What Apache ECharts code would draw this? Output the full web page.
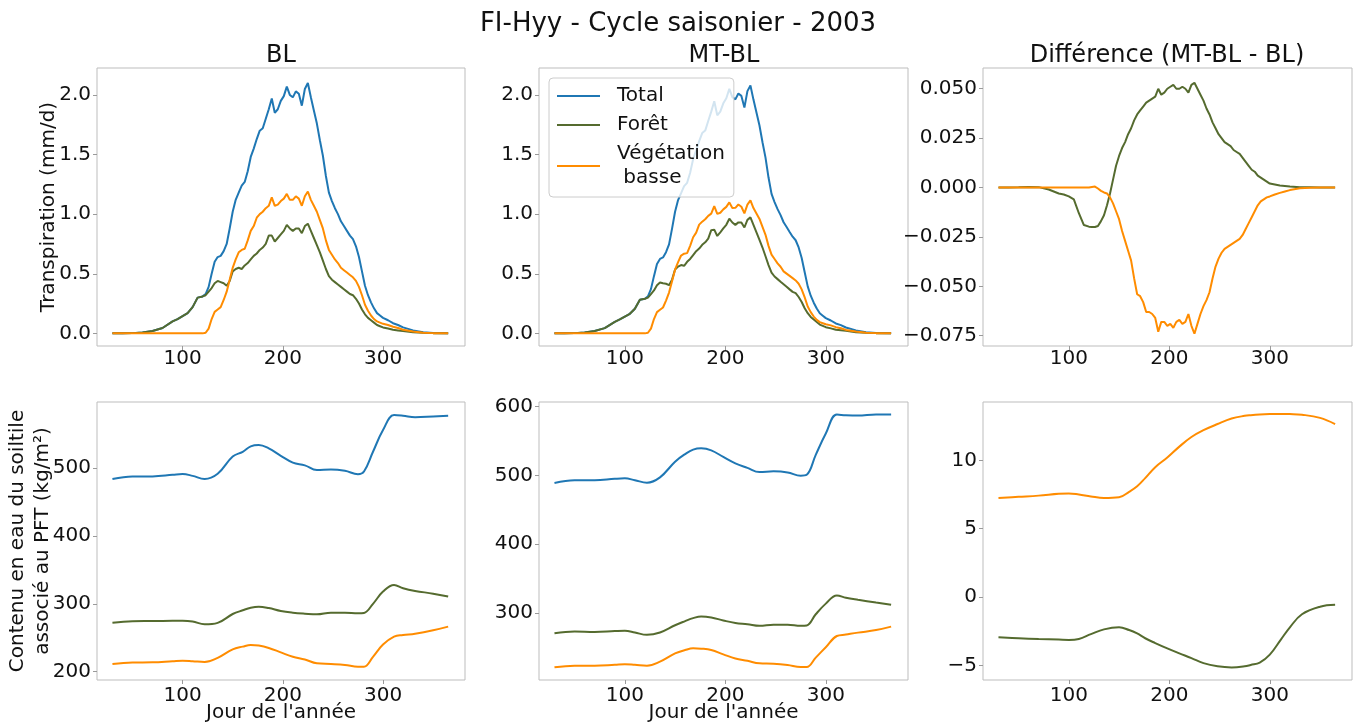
<!DOCTYPE html>
<html>
<head>
<meta charset="utf-8">
<script src="https://cdn.jsdelivr.net/npm/echarts@6/dist/echarts.min.js"></script>
<style>
  html, body { margin: 0; padding: 0; background: #ffffff; }
  #chart { width: 1356px; height: 724px; }
</style>
</head>
<body>
<div id="chart"></div>
<script>
// ---- Transpiration (mm/d), daily cycle for 2003 ----
const tDays = [30,40,50,60,70,80,90,95,100,105,110,115,120,
  123,126,129,132,135,138,141,144,147,150,
  153,156,159,162,165,168,171,174,177,180,
  183,186,189,192,195,198,201,204,207,210,
  213,216,219,222,225,228,231,234,237,240,
  243,246,249,252,255,258,261,264,267,270,
  273,276,279,282,285,288,291,294,297,300,
  305,310,315,320,330,340,350,365];

const blTotal = [0,0,0.002,0.008,0.02,0.045,0.10,0.12,0.145,0.17,0.22,0.30,0.31,
  0.33,0.39,0.50,0.60,0.64,0.65,0.69,0.75,0.88,1.02,
  1.12,1.18,1.24,1.27,1.36,1.48,1.55,1.63,1.70,1.72,
  1.80,1.88,1.97,1.85,1.88,1.95,1.99,2.07,2.00,1.98,
  2.03,2.01,1.91,2.05,2.10,1.98,1.87,1.76,1.62,1.49,
  1.32,1.18,1.11,1.05,1.00,0.94,0.90,0.86,0.82,0.79,
  0.73,0.64,0.52,0.40,0.32,0.26,0.21,0.17,0.15,0.13,
  0.11,0.085,0.07,0.05,0.025,0.01,0.004,0];
const blForet = [0,0,0.002,0.008,0.02,0.045,0.10,0.12,0.145,0.17,0.22,0.30,0.31,
  0.32,0.35,0.38,0.42,0.44,0.43,0.42,0.40,0.44,0.52,
  0.54,0.55,0.54,0.57,0.59,0.62,0.65,0.67,0.70,0.72,
  0.75,0.82,0.82,0.77,0.80,0.83,0.86,0.91,0.88,0.86,
  0.88,0.88,0.84,0.90,0.92,0.86,0.80,0.74,0.68,0.61,
  0.54,0.48,0.45,0.43,0.41,0.39,0.37,0.35,0.33,0.32,
  0.29,0.25,0.20,0.16,0.13,0.11,0.09,0.07,0.06,0.05,
  0.04,0.03,0.025,0.02,0.01,0.005,0.002,0];
const blBasse = [0,0,0,0,0,0,0,0,0,0,0,0,0,
  0.005,0.04,0.12,0.18,0.20,0.22,0.28,0.35,0.45,0.55,
  0.62,0.68,0.70,0.71,0.78,0.86,0.90,0.97,1.00,1.02,
  1.05,1.07,1.14,1.07,1.08,1.11,1.13,1.17,1.12,1.12,
  1.15,1.13,1.07,1.15,1.19,1.12,1.07,1.02,0.95,0.88,
  0.78,0.70,0.66,0.62,0.59,0.55,0.53,0.51,0.49,0.47,
  0.44,0.39,0.32,0.24,0.19,0.15,0.12,0.10,0.09,0.08,
  0.07,0.055,0.045,0.03,0.015,0.005,0.002,0];

const mtTotal = [0,0,0.002,0.008,0.02,0.044,0.097,0.117,0.141,0.164,0.207,0.282,0.29,
  0.31,0.371,0.48,0.581,0.624,0.637,0.681,0.746,0.879,1.02,
  1.118,1.176,1.235,1.263,1.348,1.463,1.534,1.613,1.68,1.701,
  1.781,1.86,1.947,1.829,1.86,1.93,1.972,2.051,1.982,1.963,
  2.012,1.992,1.894,2.032,2.079,1.961,1.853,1.744,1.603,1.474,
  1.307,1.17,1.101,1.042,0.992,0.932,0.892,0.851,0.811,0.781,
  0.721,0.632,0.513,0.394,0.316,0.257,0.208,0.168,0.148,0.128,
  0.108,0.083,0.069,0.049,0.025,0.01,0.004,0];
const mtForet = [0,0,0.002,0.008,0.02,0.044,0.097,0.117,0.141,0.164,0.207,0.282,0.29,
  0.30,0.33,0.36,0.403,0.426,0.42,0.416,0.404,0.451,0.536,
  0.56,0.573,0.567,0.60,0.624,0.657,0.689,0.711,0.743,0.764,
  0.795,0.866,0.87,0.817,0.848,0.88,0.911,0.962,0.93,0.91,
  0.931,0.93,0.888,0.952,0.973,0.91,0.847,0.784,0.72,0.647,
  0.573,0.51,0.477,0.455,0.433,0.412,0.391,0.369,0.348,0.337,
  0.305,0.263,0.211,0.169,0.138,0.116,0.095,0.074,0.063,0.052,
  0.042,0.031,0.026,0.021,0.01,0.005,0.002,0];
const mtBasse = [0,0,0,0,0,0,0,0,0,0,0,0,0,
  0.005,0.04,0.12,0.178,0.198,0.217,0.275,0.342,0.438,0.534,
  0.598,0.653,0.668,0.673,0.734,0.806,0.845,0.912,0.937,0.957,
  0.986,1.004,1.067,1.002,1.012,1.04,1.061,1.099,1.052,1.053,
  1.081,1.062,1.006,1.08,1.116,1.051,1.006,0.96,0.893,0.827,
  0.734,0.66,0.624,0.587,0.559,0.52,0.501,0.482,0.463,0.444,
  0.416,0.369,0.302,0.225,0.178,0.141,0.113,0.094,0.085,0.076,
  0.067,0.052,0.043,0.029,0.015,0.005,0.002,0];

// MT-BL minus BL, transpiration
const dForet = [0,0,0.0001,0.0003,0.0002,-0.001,-0.003,-0.0035,-0.0045,-0.006,-0.013,-0.019,-0.0198,
  -0.020,-0.020,-0.0195,-0.017,-0.014,-0.009,-0.003,0.004,0.011,0.016,
  0.020,0.023,0.027,0.030,0.034,0.037,0.039,0.041,0.043,0.044,
  0.045,0.046,0.050,0.047,0.048,0.050,0.051,0.052,0.050,0.050,
  0.051,0.050,0.048,0.052,0.053,0.050,0.047,0.044,0.040,0.037,
  0.033,0.030,0.027,0.025,0.023,0.022,0.021,0.019,0.018,0.017,
  0.015,0.013,0.011,0.009,0.008,0.006,0.005,0.004,0.003,0.002,
  0.0015,0.001,0.0008,0.0005,0.0002,0.0001,0,0];
const dBasse = [0,0,0,0,0,0,0,0,0,0,0,0,0,
  0.0003,0.0005,-0.0005,-0.0017,-0.0025,-0.003,-0.005,-0.008,-0.012,-0.016,
  -0.022,-0.027,-0.032,-0.037,-0.046,-0.054,-0.055,-0.058,-0.063,-0.063,
  -0.064,-0.066,-0.073,-0.068,-0.068,-0.070,-0.069,-0.071,-0.068,-0.067,
  -0.069,-0.068,-0.064,-0.070,-0.074,-0.069,-0.064,-0.060,-0.057,-0.053,
  -0.046,-0.040,-0.036,-0.033,-0.031,-0.030,-0.029,-0.028,-0.027,-0.026,
  -0.024,-0.021,-0.018,-0.015,-0.012,-0.009,-0.007,-0.006,-0.005,-0.0045,
  -0.0035,-0.0027,-0.002,-0.0013,-0.0004,-0.0001,0,0];

// ---- Soil water content per PFT (kg/m²) ----
const sDays = [30,50,70,90,100,110,122,135,150,160,168,176,186,198,210,222,234,248,262,275,281,290,300,311,320,332,350,365];

const swBlTotal = [483.8,487.5,487.7,490,491.2,488.5,483.8,491.5,517,524,532,534,529,518,508,504,497,498,496,491,495,524,556,578,577,575,576,577];
const swBlForet = [272.3,274.5,274.7,275,275.2,274,269.8,272,285,290.5,294.3,295.8,293.8,289.5,287,285.5,284.5,287,287,286,286.5,300,318,327.8,323,319,315,310.7];
const swBlBasse = [211.4,213.6,213.8,215.5,216.3,215.5,214.3,220.5,233,237,239.4,238.5,235,228.5,222,218,212.4,211.4,210,207.5,207.5,222,240,251.7,254,256,261,266.4];

const swMtTotal = [488.9,492.8,492.8,495,495.7,493,489.4,497.2,520,531,537.5,539.4,536.5,526.8,517.5,511,504.9,505.9,504.4,499.6,501,530,561,588.5,587.5,587,588.5,588.5];
const swMtForet = [270.5,272.9,272.4,273.5,273.9,271.5,268.1,271.5,282,288,292.4,294.8,293.4,289,285.3,283.5,281.2,282.7,282.7,281.2,281.7,298,313.5,325.4,322,319,315,311.8];
const swMtBasse = [220.9,223.3,223.3,224.5,225.3,224.5,223.3,229.1,241,246,248.5,248,246,239.7,233.6,230.3,226.6,226.1,224.2,221.3,221.3,235,250,266.4,268.5,271.3,275,280];

const swDForet = [-2.93,-3.0,-3.06,-3.1,-3.12,-3.05,-2.7,-2.35,-2.2,-2.4,-2.65,-3.0,-3.35,-3.74,-4.1,-4.45,-4.82,-5.05,-5.13,-5.05,-4.95,-4.78,-4.2,-3.1,-2.2,-1.25,-0.7,-0.56];
const swDBasse = [7.24,7.33,7.42,7.55,7.58,7.5,7.36,7.25,7.3,7.7,8.1,8.7,9.5,10.2,11.0,11.7,12.2,12.65,13.05,13.25,13.3,13.35,13.38,13.39,13.38,13.33,13.1,12.65];

// ---- tick labels ----
const dayTicks = [100, 200, 300];
const transTicks = [0, 0.5, 1.0, 1.5, 2.0];
const transDiffTicks = [-0.075, -0.05, -0.025, 0, 0.025, 0.05];
const swBlTicks = [200, 300, 400, 500];
const swMtTicks = [300, 400, 500, 600];
const swDiffTicks = [-5, 0, 5, 10];

const names = ['Total', 'For\u00eat', 'V\u00e9g\u00e9tation\n basse'];
const colors = ['#1f77b4', '#556b2f', '#ff8c00'];

const FONT = 'DejaVu Sans';
const pair = (xs, ys) => xs.map((x, i) => [x, ys[i]]);
const fmt = d => v => (v < 0 ? '\u2212' : '') + Math.abs(v).toFixed(d);

const gridBoxes = [
  { left: 97,  top: 68,  width: 368, height: 278 },
  { left: 539, top: 68,  width: 369, height: 278 },
  { left: 983, top: 68,  width: 369, height: 278 },
  { left: 97,  top: 402, width: 368, height: 278 },
  { left: 539, top: 402, width: 369, height: 278 },
  { left: 983, top: 402, width: 369, height: 278 }
];

const grid = gridBoxes.map(g => Object.assign({
  show: true, borderColor: '#bdbdbd', borderWidth: 1, backgroundColor: 'transparent'
}, g));

const tickStyle = { show: true, length: 4, lineStyle: { color: '#9a9a9a', width: 1 } };
const labelStyle = { color: '#111', fontFamily: FONT, fontSize: 20 };

const xAxis = gridBoxes.map((g, i) => ({
  type: 'value', gridIndex: i, min: 14.6, max: 381.8,
  axisLine: { show: false, onZero: false },
  splitLine: { show: false },
  axisTick: Object.assign({ customValues: dayTicks }, tickStyle),
  axisLabel: Object.assign({ customValues: dayTicks, margin: i < 3 ? 3 : 6 }, labelStyle),
  name: (i === 3 || i === 4) ? "Jour de l'ann\u00e9e" : '',
  nameLocation: 'middle', nameGap: 23, nameMoveOverlap: false,
  nameTextStyle: { color: '#111', fontFamily: FONT, fontSize: 20 }
}));

function yAx(i, min, max, ticks, digits, name, nameGap) {
  return {
    type: 'value', gridIndex: i, min: min, max: max,
    axisLine: { show: false, onZero: false },
    splitLine: { show: false },
    axisTick: Object.assign({ customValues: ticks }, tickStyle),
    axisLabel: Object.assign({ customValues: ticks, margin: 6, formatter: fmt(digits) }, labelStyle),
    name: name || '', nameLocation: 'middle', nameGap: nameGap || 40, nameMoveOverlap: false,
    nameTextStyle: { color: '#111', fontFamily: FONT, fontSize: 20, lineHeight: 25 }
  };
}

const yAxis = [
  yAx(0, -0.106, 2.226, transTicks, 1, 'Transpiration (mm/d)', 36),
  yAx(1, -0.106, 2.226, transTicks, 1),
  yAx(2, -0.0802, 0.0605, transDiffTicks, 3),
  yAx(3, 187.8, 597.3, swBlTicks, 0, 'Contenu en eau du soiltile\nassoci\u00e9 au PFT (kg/m\u00b2)', 42),
  yAx(4, 202.4, 606.8, swMtTicks, 0),
  yAx(5, -6.05, 14.26, swDiffTicks, 0)
];

function line(name, color, gi, xs, ys) {
  return {
    type: 'line', name: name, xAxisIndex: gi, yAxisIndex: gi,
    data: pair(xs, ys), symbol: 'none', showSymbol: false,
    lineStyle: { color: color, width: 2 }, itemStyle: { color: color },
    animation: false
  };
}

function smoothLine(name, color, gi, xs, ys) {
  const s = line(name, color, gi, xs, ys);
  s.smooth = 0.4;
  return s;
}

const series = [
  line(names[0], colors[0], 0, tDays, blTotal),
  line(names[1], colors[1], 0, tDays, blForet),
  line(names[2], colors[2], 0, tDays, blBasse),
  line(names[0], colors[0], 1, tDays, mtTotal),
  line(names[1], colors[1], 1, tDays, mtForet),
  line(names[2], colors[2], 1, tDays, mtBasse),
  line(names[1], colors[1], 2, tDays, dForet),
  line(names[2], colors[2], 2, tDays, dBasse),
  smoothLine(names[0], colors[0], 3, sDays, swBlTotal),
  smoothLine(names[1], colors[1], 3, sDays, swBlForet),
  smoothLine(names[2], colors[2], 3, sDays, swBlBasse),
  smoothLine(names[0], colors[0], 4, sDays, swMtTotal),
  smoothLine(names[1], colors[1], 4, sDays, swMtForet),
  smoothLine(names[2], colors[2], 4, sDays, swMtBasse),
  smoothLine(names[1], colors[1], 5, sDays, swDForet),
  smoothLine(names[2], colors[2], 5, sDays, swDBasse)
];

const titleText = { color: '#111', fontFamily: FONT, fontWeight: 'normal' };
const title = [
  { text: 'FI-Hyy - Cycle saisonier - 2003', left: 678, top: 11, textAlign: 'center', padding: 0,
    textStyle: Object.assign({ fontSize: 26 }, titleText) },
  { text: 'BL', left: 281, top: 44, textAlign: 'center', padding: 0,
    textStyle: Object.assign({ fontSize: 24 }, titleText) },
  { text: 'MT-BL', left: 724, top: 44, textAlign: 'center', padding: 0,
    textStyle: Object.assign({ fontSize: 24 }, titleText) },
  { text: 'Diff\u00e9rence (MT-BL - BL)', left: 1167, top: 44, textAlign: 'center', padding: 0,
    textStyle: Object.assign({ fontSize: 24 }, titleText) }
];

const chart = echarts.init(document.getElementById('chart'), null, { renderer: 'canvas' });
chart.setOption({
  backgroundColor: '#ffffff',
  animation: false,
  title: title,
  grid: grid,
  xAxis: xAxis,
  yAxis: yAxis,
  legend: {
    data: names.map(n => ({ name: n, icon: 'rect' })),
    left: 549, top: 78,
    orient: 'vertical',
    itemWidth: 43, itemHeight: 2, itemGap: 5,
    padding: [6, 9, 7, 8],
    backgroundColor: 'rgba(255,255,255,0.8)',
    borderColor: '#cccccc', borderWidth: 1, borderRadius: 4,
    textStyle: { color: '#111', fontFamily: FONT, fontSize: 20, lineHeight: 24, padding: [0, 0, 0, 12] },
    selectedMode: false
  },
  series: series
});
</script>
</body>
</html>
